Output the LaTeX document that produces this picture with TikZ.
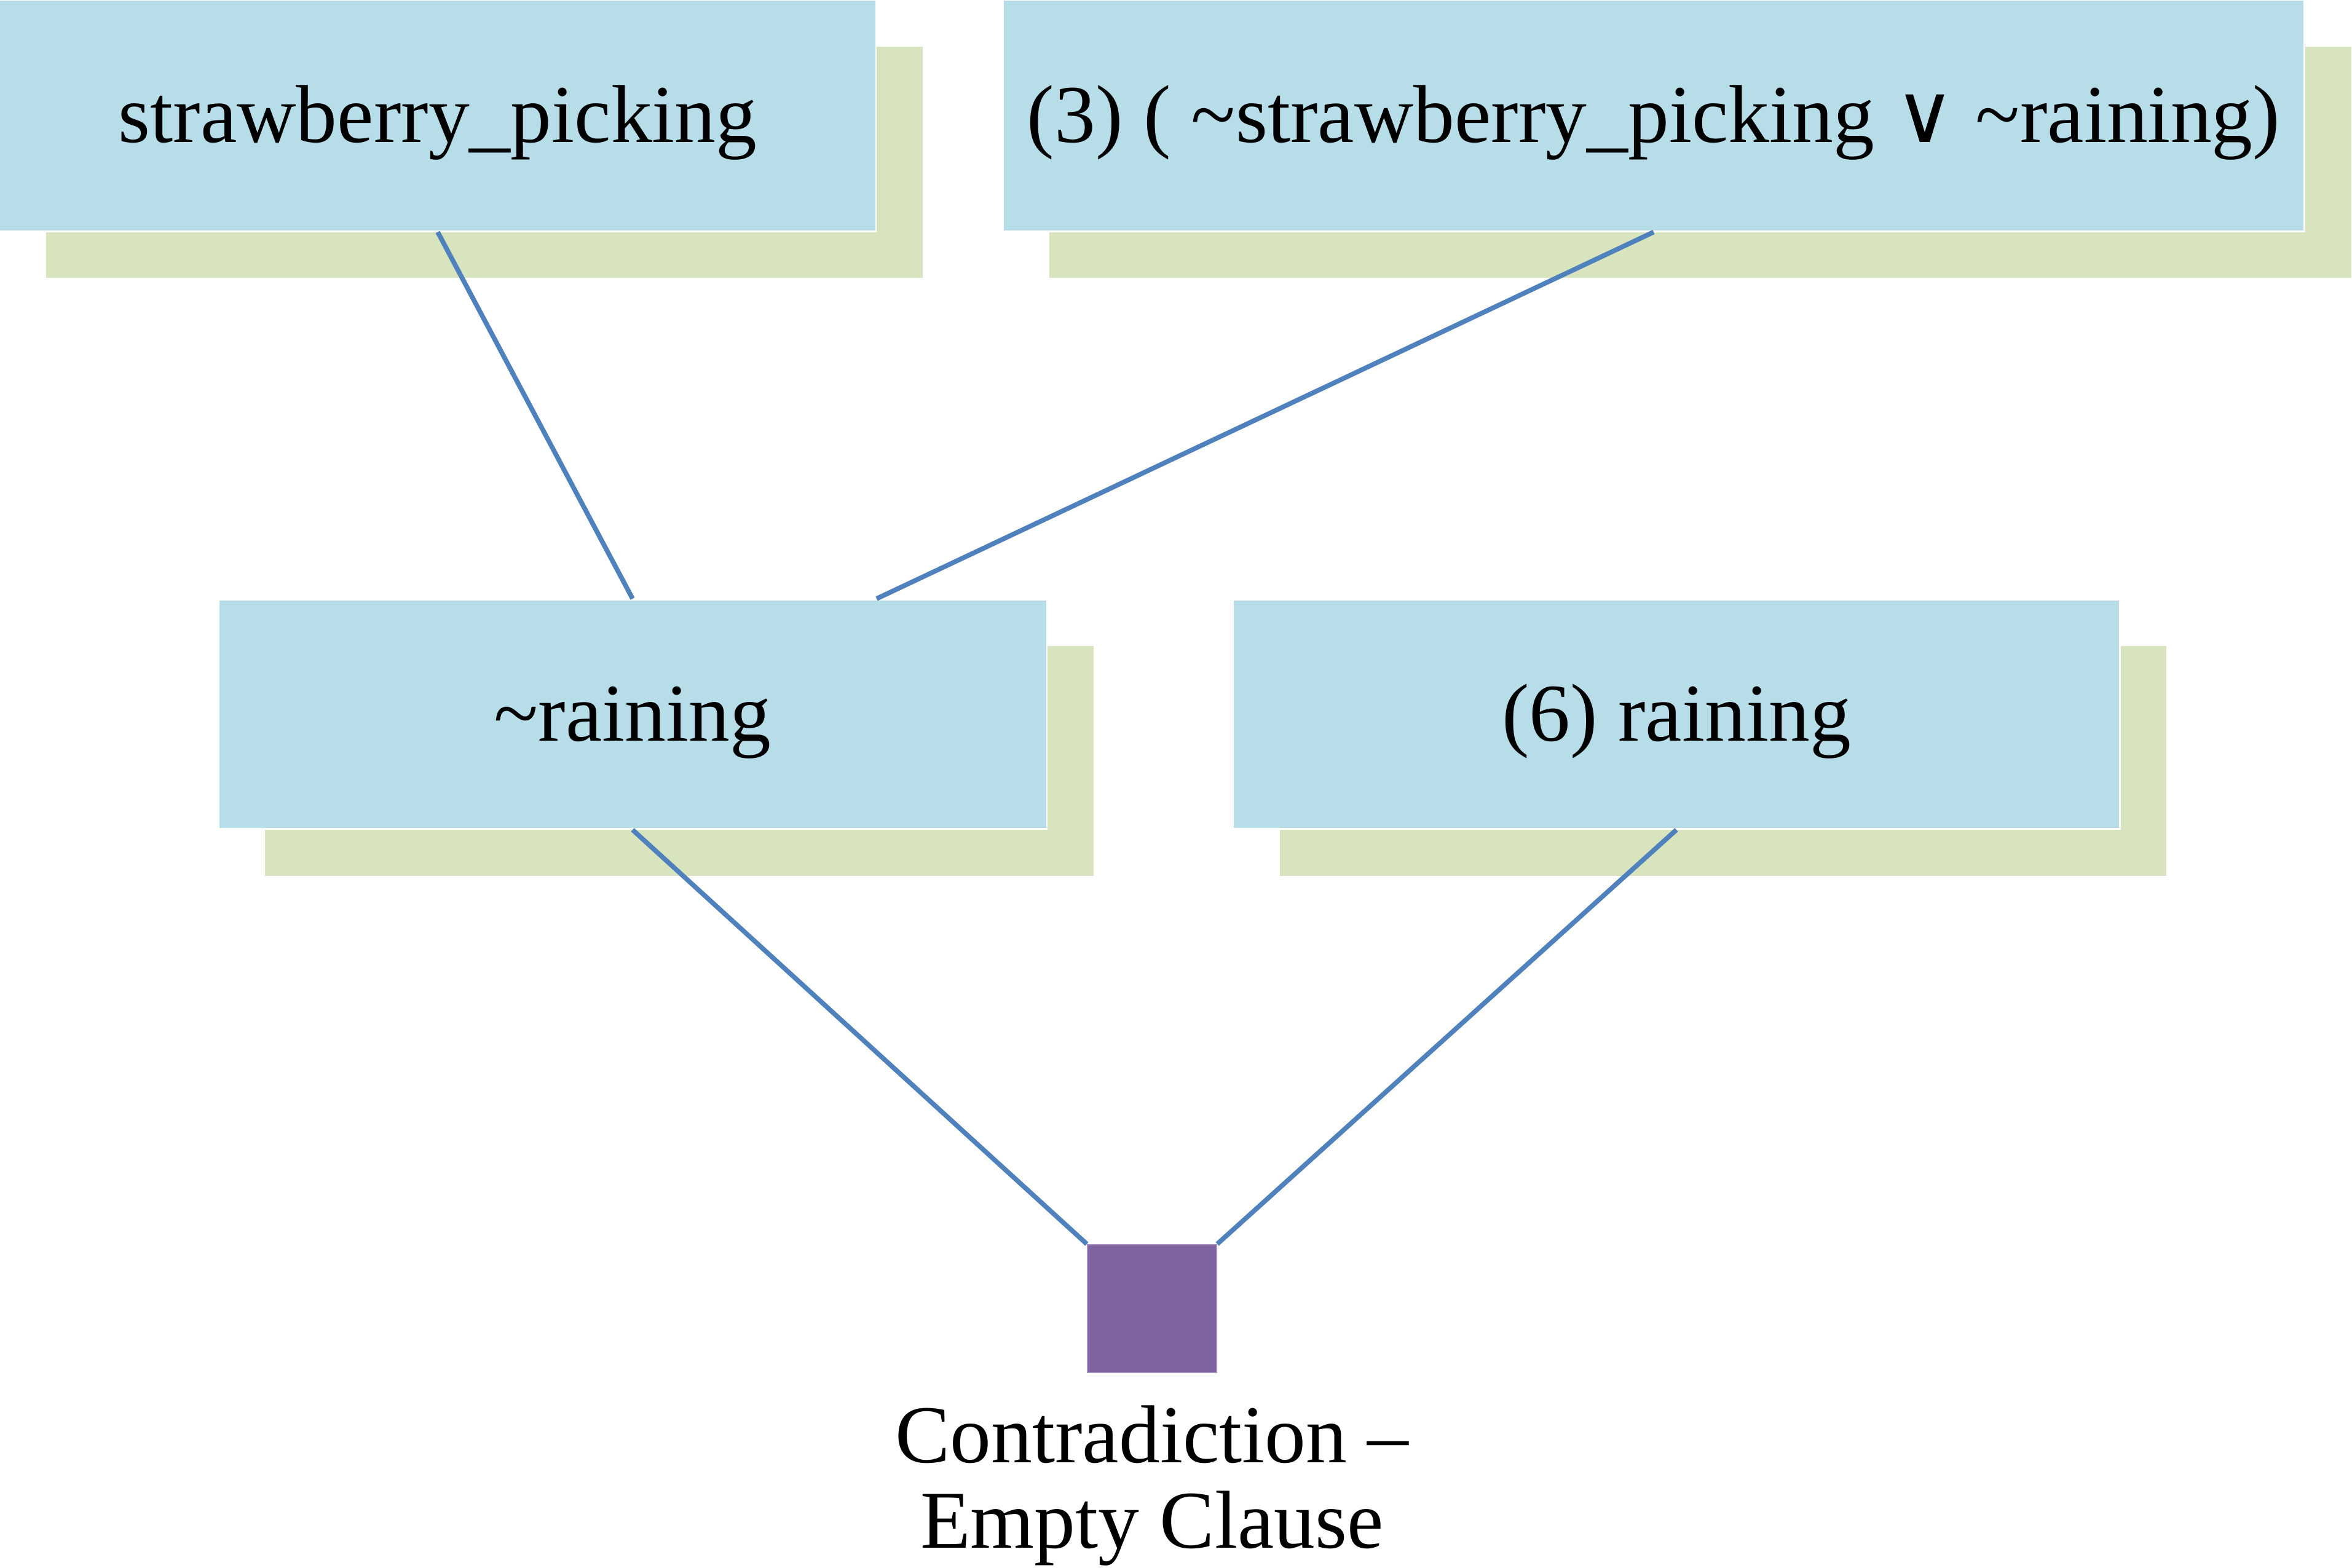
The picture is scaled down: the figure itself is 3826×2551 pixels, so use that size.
\documentclass[tikz,border=0pt]{standalone}
\usepackage{fontspec}
\setmainfont{Liberation Serif}
\newfontfamily\symfont{DejaVu Sans}
\usetikzlibrary{calc}
\definecolor{boxblue}{HTML}{B7DDE8}
\definecolor{shadowgreen}{HTML}{D7E4BD}
\definecolor{linkblue}{HTML}{4F81BD}
\definecolor{nodepurple}{HTML}{8064A2}
\begin{document}
\begin{tikzpicture}[x=0.01cm,y=-0.01cm,
  clausebox/.style={fill=boxblue,draw=white,line width=0.8pt,inner sep=0pt,
    text height=28pt,text depth=3pt,font=\fontsize{38}{40}\selectfont},
  shadowbox/.style={fill=shadowgreen,draw=none,inner sep=0pt},
  emptybox/.style={fill=nodepurple,draw=nodepurple!70!white,line width=0.6pt,inner sep=0pt,
    minimum width=2.10cm,minimum height=2.08cm},
  labeltext/.style={inner sep=0pt,align=center,font=\fontsize{38}{39.5}\selectfont},
  link/.style={draw=linkblue,line width=2.2pt}]
\useasboundingbox (0,0) rectangle (3826,2551);
% shadows
\node[shadowbox,minimum width=14.25cm,minimum height=3.76cm] (s1) at (788,264) {};
\node[shadowbox,minimum width=21.16cm,minimum height=3.76cm] (s2) at (2766,264) {};
\node[shadowbox,minimum width=13.47cm,minimum height=3.73cm] (s3) at (1105,1238) {};
\node[shadowbox,minimum width=14.42cm,minimum height=3.73cm] (s4) at (2803,1238) {};
% clause boxes
\node[clausebox,minimum width=14.25cm,minimum height=3.76cm] (b1) at (712,188) {strawberry\_picking};
\node[clausebox,minimum width=21.16cm,minimum height=3.76cm] (b2) at (2690,188) {(3) ( \textasciitilde strawberry\_picking {\symfont ∨} \textasciitilde raining)};
\node[clausebox,minimum width=13.47cm,minimum height=3.73cm] (b3) at (1029,1162) {\textasciitilde raining};
\node[clausebox,minimum width=14.42cm,minimum height=3.73cm] (b4) at (2727,1162) {(6) raining};
% empty clause
\node[emptybox] (sq) at (1874,2129) {};
\node[labeltext,anchor=base] (lbl) at (1874,2518) {Contradiction –\\Empty Clause};
% links
\draw[link] (b1.south) -- (b3.north);
\draw[link] (b2.south) -- ($(b3.north west)!0.794!(b3.north east)$);
\draw[link] (b3.south) -- (sq.north west);
\draw[link] (b4.south) -- (sq.north east);
\end{tikzpicture}
\end{document}
